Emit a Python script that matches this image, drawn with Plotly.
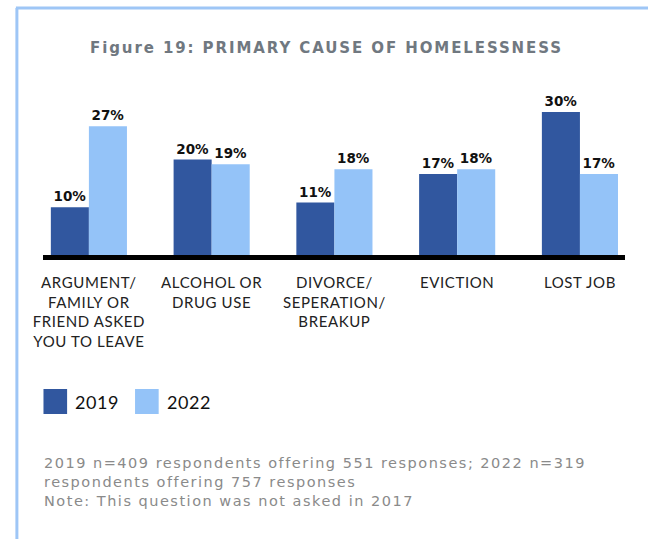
import plotly.graph_objects as go

categories = ["ARGUMENT/<br>FAMILY OR<br>FRIEND ASKED<br>YOU TO LEAVE",
              "ALCOHOL OR<br>DRUG USE",
              "DIVORCE/<br>SEPERATION/<br>BREAKUP",
              "EVICTION",
              "LOST JOB"]
series_names = ["2019", "2022"]
values_2019 = [10, 20, 11, 17, 30]
values_2022 = [27, 19, 18, 18, 17]
colors = ["#31579f", "#94c3f8"]

title_text = "Figure 19: PRIMARY CAUSE OF HOMELESSNESS"
footnote_lines = ["2019 n=409 respondents offering 551 responses; 2022 n=319",
                  "respondents offering 757 responses",
                  "Note: This question was not asked in 2017"]


def spaced(t, px):
    return '<span style="letter-spacing:%.2fpx">%s</span>' % (px, t)


W, H = 648, 539
fig = go.Figure()
for name, vals, col in zip(series_names, [values_2019, values_2022], colors):
    fig.add_trace(go.Bar(
        x=categories, y=vals, name=name, marker=dict(color=col, line=dict(width=0)),
        texttemplate="%{y}%", textposition="outside", cliponaxis=False,
        textfont=dict(family="DejaVu Sans", size=13.5, color="#111111", weight="bold"),
    ))

tick_text = ["<br>".join(spaced(p, 0.6) for p in c.split("<br>")) for c in categories]

fig.update_layout(
    width=W, height=H, margin=dict(l=0, r=0, t=0, b=0),
    paper_bgcolor="white", plot_bgcolor="white",
    barmode="group", bargap=0.38, bargroupgap=0,
    showlegend=False,
    xaxis=dict(domain=[34 / W, 625 / W], range=[-0.37, 4.37],
               tickmode="array", tickvals=categories, ticktext=tick_text,
               showline=True, linecolor="black", linewidth=5,
               ticks="outside", ticklen=10, tickcolor="rgba(0,0,0,0)",
               tickfont=dict(family="Lato", size=15, color="#222222"),
               showgrid=False, zeroline=False),
    yaxis=dict(domain=[(H - 255) / H, 1], range=[0, 255 / 4.77],
               visible=False, showgrid=False, zeroline=False),
    font=dict(family="Lato"),
)

# frame
fig.add_shape(type="line", xref="paper", yref="paper", x0=6 / W, x1=1, y0=1 - 8 / H, y1=1 - 8 / H,
              line=dict(color="#9ec6f6", width=3))
fig.add_shape(type="line", xref="paper", yref="paper", x0=7 / W, x1=7 / W, y0=0, y1=1 - 8 / H,
              line=dict(color="#9ec6f6", width=3))

# title
fig.add_annotation(text="<b>" + spaced(title_text, 1.9) + "</b>", xref="paper", yref="paper",
                   x=321 / W, y=1 - 48 / H, xanchor="center", yanchor="middle", showarrow=False,
                   font=dict(family="DejaVu Sans", size=15, color="#707880"))

# custom legend
lx = [34, 127]
for i, (name, col) in enumerate(zip(series_names, colors)):
    fig.add_shape(type="rect", xref="paper", yref="paper",
                  x0=lx[i] / W, x1=(lx[i] + 24) / W, y0=1 - 414 / H, y1=1 - 389 / H,
                  fillcolor=col, line=dict(width=0))
    fig.add_annotation(text=spaced(name, 0.6), xref="paper", yref="paper", x=(lx[i] + 30) / W, y=1 - 402 / H,
                       xanchor="left", yanchor="middle", showarrow=False,
                       font=dict(family="Lato", size=18, color="#111111"))

# footnote
fig.add_annotation(text="<br>".join(spaced(l, 1.5) for l in footnote_lines),
                   xref="paper", yref="paper", x=32 / W, y=1 - 453 / H,
                   xanchor="left", yanchor="top", align="left", showarrow=False,
                   font=dict(family="DejaVu Sans", size=14.5, color="#8a8a8a"))

fig.write_html(
    "out.html", config={"displayModeBar": False},
    post_script=("document.documentElement.style.margin='0';"
                 "document.body.style.margin='0';document.body.style.padding='0';"
                 "var d=document.getElementById('{plot_id}');"
                 "d.style.position='fixed';d.style.left='0px';d.style.top='0px';"))
